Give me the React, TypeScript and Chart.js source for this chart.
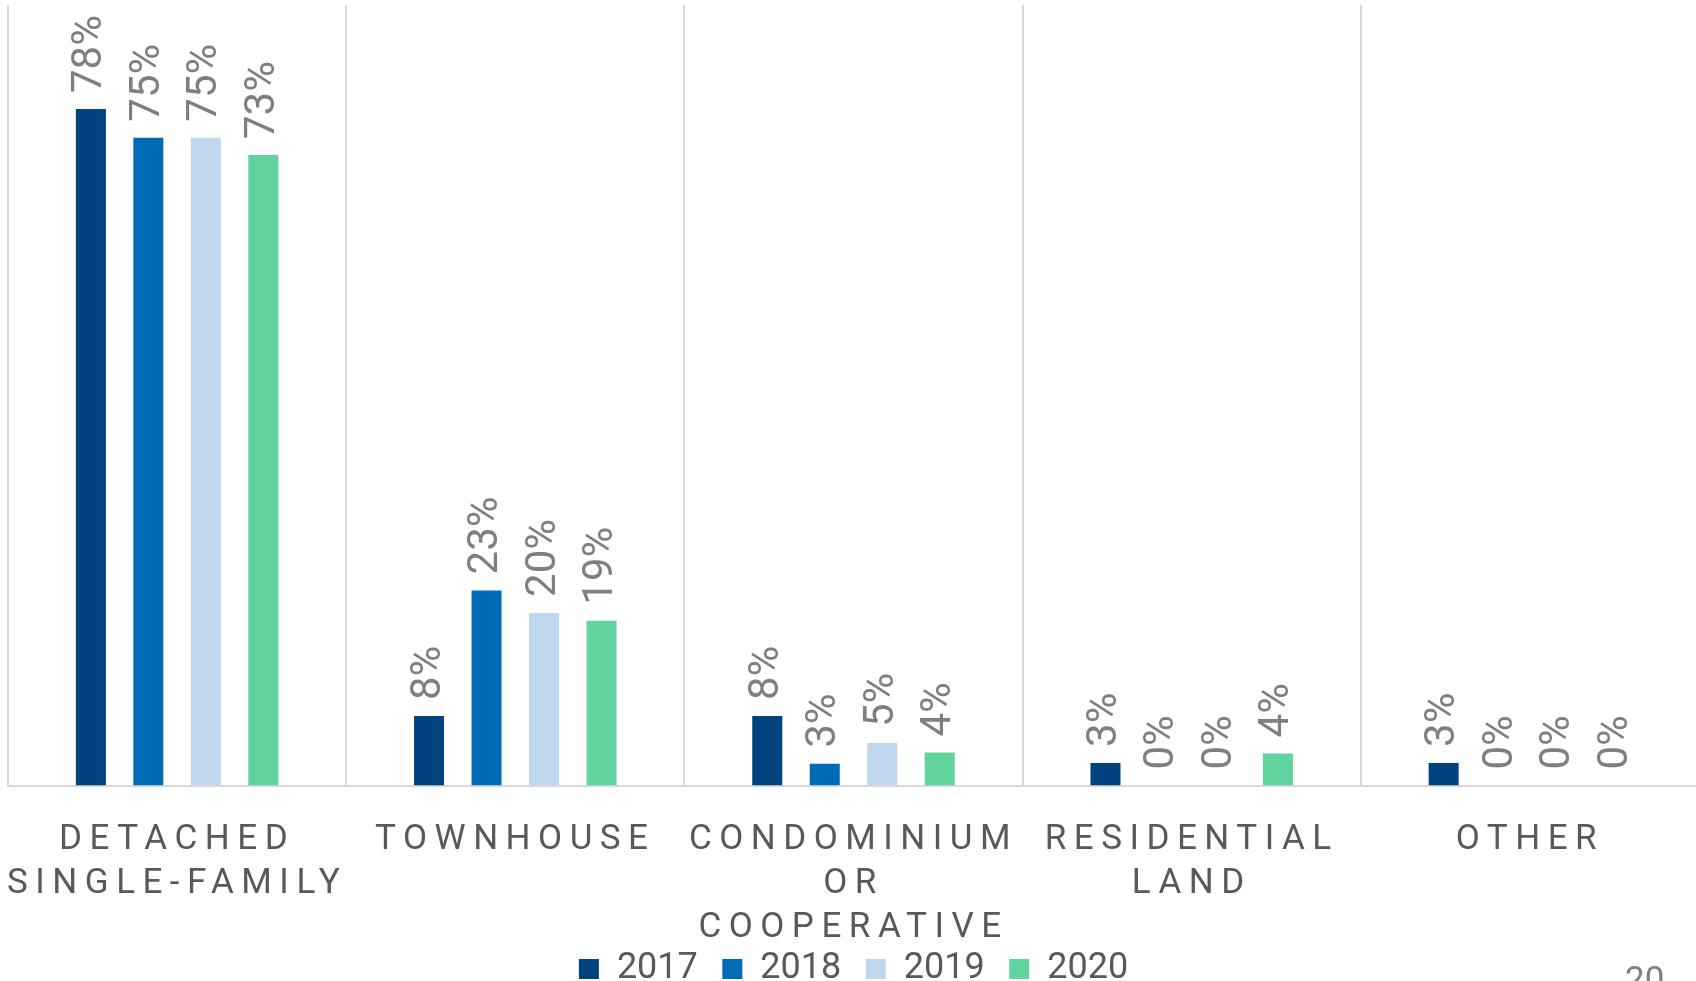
import React, { useEffect, useRef } from "react";
import { Chart, registerables } from "chart.js";

Chart.register(...registerables);

const categories: string[][] = [
  ["DETACHED", "SINGLE-FAMILY"],
  ["TOWNHOUSE"],
  ["CONDOMINIUM", "OR", "COOPERATIVE"],
  ["RESIDENTIAL", "LAND"],
  ["OTHER"],
];

const years = ["2017", "2018", "2019", "2020"];
const values2017 = [78, 8, 8, 2.6, 2.6];
const values2018 = [74.7, 22.5, 2.5, 0, 0];
const values2019 = [74.7, 19.9, 4.9, 0, 0];
const values2020 = [72.7, 19.0, 3.8, 3.7, 0];
const colors = ["#00437f", "#006cb5", "#bfd7ec", "#61d39e"];
const pageNumber = "20";

const CANVAS_W = 1700;
const CANVAS_H = 997;

const labelPlugin = {
  id: "barValueLabels",
  afterDatasetsDraw(chart: any) {
    const ctx = chart.ctx;
    chart.data.datasets.forEach((ds: any, di: number) => {
      const meta = chart.getDatasetMeta(di);
      meta.data.forEach((bar: any, i: number) => {
        const v = ds.data[i] as number;
        ctx.save();
        ctx.translate(bar.x, bar.y - 16);
        ctx.rotate(-Math.PI / 2);
        ctx.font = "42px Roboto";
        ctx.fillStyle = "#7f7f7f";
        ctx.textAlign = "left";
        ctx.textBaseline = "middle";
        ctx.fillText(`${Math.round(v)}%`, 0, 0);
        ctx.restore();
      });
    });
  },
};

const tickSpacingPlugin = {
  id: "tickSpacing",
  afterLayout(chart: any) {
    const s: any = chart.scales.x;
    if (s && !s.__patched) {
      const orig = s.drawLabels.bind(s);
      s._computeLabelArea = () => undefined;
      s.drawLabels = (area: any) => {
        const ctx: any = chart.ctx;
        ctx.save();
        ctx.letterSpacing = "7.5px";
        orig(area);
        ctx.restore();
      };
      s.__patched = true;
    }
  },
};

export default function App() {
  const canvasRef = useRef<HTMLCanvasElement | null>(null);

  useEffect(() => {
    if (!canvasRef.current) return;
    const series = [values2017, values2018, values2019, values2020];
    const chart = new Chart(canvasRef.current, {
      type: "bar",
      data: {
        labels: categories,
        datasets: years.map((y, i) => ({
          label: y,
          data: series[i],
          backgroundColor: colors[i],
          borderWidth: 0,
          categoryPercentage: 0.68,
          barPercentage: 0.522,
        })),
      },
      options: {
        responsive: false,
        animation: false,
        layout: { padding: { left: 8, right: 1, top: 5, bottom: 0 } },
        plugins: {
          tooltip: { enabled: false },
          legend: {
            position: "bottom",
            labels: {
              font: { family: "Roboto", size: 36, lineHeight: 1 },
              color: "#595959",
              boxWidth: 20,
              boxHeight: 20,
              padding: 24.5,
            },
          },
        },
        scales: {
          x: {
            grid: {
              display: true,
              offset: true,
              color: "#d9d9d9",
              lineWidth: 2,
              drawTicks: false,
            },
            border: { display: true, color: "#d9d9d9", width: 2 },
            ticks: {
              autoSkip: false,
              maxRotation: 0,
              minRotation: 0,
              padding: 33,
              color: "#595959",
              font: { family: "Roboto", size: 35, lineHeight: 1.257 },
            },
            afterFit: (scale: any) => {
              scale.height = 141;
            },
          },
          y: {
            display: false,
            min: 0,
            max: 90,
          },
        },
      },
      plugins: [labelPlugin, tickSpacingPlugin],
    });
    return () => chart.destroy();
  }, []);

  return (
    <div
      style={{
        position: "fixed",
        left: 0,
        top: 0,
        width: 1696,
        height: 981,
        overflow: "hidden",
        background: "#ffffff",
      }}
    >
      <canvas
        ref={canvasRef}
        width={CANVAS_W}
        height={CANVAS_H}
        style={{ width: CANVAS_W, height: CANVAS_H, display: "block" }}
      />
      <div
        style={{
          position: "absolute",
          left: 1625,
          top: 962,
          fontFamily: "Roboto",
          fontSize: 35,
          lineHeight: "35px",
          color: "#7f7f7f",
        }}
      >
        {pageNumber}
      </div>
    </div>
  );
}
